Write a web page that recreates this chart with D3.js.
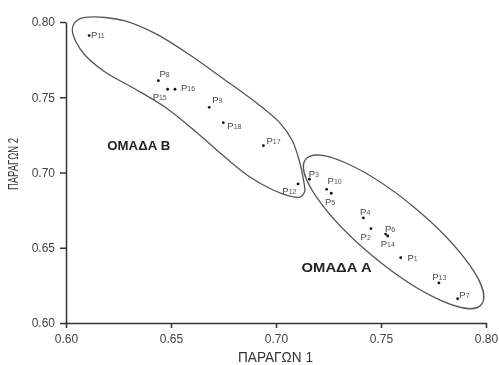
<!DOCTYPE html>
<html>
<head>
<meta charset="utf-8">
<script src="https://cdn.jsdelivr.net/npm/d3@7"></script>
<style>
  body { margin: 0; background: #fff; }
  svg { font-family: "Liberation Sans", Arial, sans-serif; will-change: transform; }
  .axis path, .axis line { stroke: #333; stroke-width: 1.5; }
  .axis text { fill: #444; font-size: 12px; }
</style>
</head>
<body>
<div id="chart"></div>
<script>
// point names and coordinates (factor 1, factor 2)
const names = ['P1','P2','P3','P4','P5','P6','P7','P8','P9','P10','P11','P12','P13','P14','P15','P16','P17','P18'];
const factor1 = [0.7594,0.7452,0.7159,0.7416,0.7263,0.7522,0.7865,0.644,0.6682,0.7241,0.611,0.7105,0.7776,0.7532,0.6484,0.6519,0.694,0.6749];
const factor2 = [0.6434,0.6627,0.6955,0.6698,0.6862,0.6591,0.6161,0.761,0.7433,0.6888,0.791,0.6924,0.6266,0.6578,0.7553,0.7553,0.7178,0.7331];

const xTicks = [0.60, 0.65, 0.70, 0.75, 0.80];
const yTicks = [0.60, 0.65, 0.70, 0.75, 0.80];

// group B outline (data units)
const groupBOutline = [
  [0.6030,0.7947],[0.6040,0.7993],[0.6067,0.8023],[0.6114,0.8033],[0.6186,0.8030],[0.6281,0.8007],
  [0.6424,0.7924],[0.6590,0.7781],[0.6757,0.7615],[0.6914,0.7455],[0.7014,0.7336],[0.7076,0.7216],
  [0.7110,0.7083],[0.7131,0.6950],[0.7136,0.6870],[0.7114,0.6837],[0.7067,0.6843],[0.6981,0.6887],
  [0.6876,0.6970],[0.6762,0.7096],[0.6614,0.7276],[0.6471,0.7435],[0.6329,0.7555],[0.6186,0.7668],
  [0.6090,0.7781],[0.6048,0.7867]
];
// group A ellipse centre (data units)
const groupACentre = [0.7560, 0.6606];

const groupNames = ['ΟΜΑΔΑ Β', 'ΟΜΑΔΑ Α'];
const groupLabelX = [0.6197, 0.7122];
const groupLabelY = [0.7150, 0.6341];

// label offsets in px [dx, dy of baseline]
const labelOffset = {
  P1:[6.7,3], P2:[-10.3,11.3], P3:[-0.7,-2.6], P4:[-3.3,-3.3], P5:[-6.3,11.7], P6:[-0.7,-2.3],
  P7:[1.7,-0.4], P8:[1,-4], P9:[3,-4], P10:[1,-5.3], P11:[2,2.5], P12:[-15.7,10.3],
  P13:[-6.7,-3], P14:[-7,11.3], P15:[-15,10.7], P16:[6,1.4], P17:[3,-1.7], P18:[4,6.6]
};

const width = 499, height = 365;
const svg = d3.select('#chart').append('svg').attr('width', width).attr('height', height);

const xScale = d3.scaleLinear().domain([0.6, 0.8]).range([66, 486]);
const yScale = d3.scaleLinear().domain([0.6, 0.8]).range([323, 22]);

const outline = d3.line()
  .x((d) => xScale(d[0]))
  .y((d) => yScale(d[1]))
  .curve(d3.curveCatmullRomClosed.alpha(0.5));

svg.append('path')
  .attr('d', outline(groupBOutline))
  .attr('fill', 'none')
  .attr('stroke', '#555')
  .attr('stroke-width', 1.3);

svg.append('ellipse')
  .attr('transform', `translate(${xScale(groupACentre[0])},${yScale(groupACentre[1])}) rotate(39.6)`)
  .attr('rx', 114)
  .attr('ry', 32)
  .attr('fill', 'none')
  .attr('stroke', '#555')
  .attr('stroke-width', 1.3);

const xAxis = d3.axisBottom(xScale).tickValues(xTicks).tickFormat(d3.format('.2f')).tickSize(5).tickSizeOuter(0).tickPadding(6);
svg.append('g').attr('class', 'axis').attr('transform', 'translate(0,323)').call(xAxis);

const yAxis = d3.axisLeft(yScale).tickValues(yTicks).tickFormat(d3.format('.2f')).tickSize(6).tickSizeOuter(0).tickPadding(5);
svg.append('g').attr('class', 'axis').attr('transform', 'translate(66,0)').call(yAxis);

svg.append('text')
  .attr('x', 238).attr('y', 361.5)
  .attr('font-size', 14).attr('fill', '#333')
  .attr('textLength', 75).attr('lengthAdjust', 'spacingAndGlyphs')
  .text('ΠΑΡΑΓΩΝ 1');

svg.append('text')
  .attr('transform', 'translate(18,190) rotate(-90)')
  .attr('font-size', 14).attr('fill', '#333')
  .attr('textLength', 52).attr('lengthAdjust', 'spacingAndGlyphs')
  .text('ΠΑΡΑΓΩΝ 2');

const points = names.map((n, i) => ({ name: n, x: factor1[i], y: factor2[i] }));

svg.selectAll('circle.pt')
  .data(points)
  .join('circle')
  .attr('class', 'pt')
  .attr('cx', (d) => xScale(d.x))
  .attr('cy', (d) => yScale(d.y))
  .attr('r', 1.4)
  .attr('fill', '#111');

const labels = svg.selectAll('text.lbl')
  .data(points)
  .join('text')
  .attr('class', 'lbl')
  .attr('x', (d) => xScale(d.x) + labelOffset[d.name][0])
  .attr('y', (d) => yScale(d.y) + labelOffset[d.name][1])
  .attr('fill', '#555');
labels.append('tspan').attr('font-size', 9.5).attr('fill', '#444').text('P');
labels.append('tspan').attr('font-size', 7).text((d) => d.name.slice(1));

svg.selectAll('text.grp')
  .data(groupNames)
  .join('text')
  .attr('class', 'grp')
  .attr('x', (d, i) => xScale(groupLabelX[i]))
  .attr('y', (d, i) => yScale(groupLabelY[i]))
  .attr('font-size', 13)
  .attr('font-weight', 'bold')
  .attr('fill', '#222')
  .attr('textLength', (d, i) => (i === 0 ? 63 : 70))
  .attr('lengthAdjust', 'spacingAndGlyphs')
  .text((d) => d);
</script>
</body>
</html>
